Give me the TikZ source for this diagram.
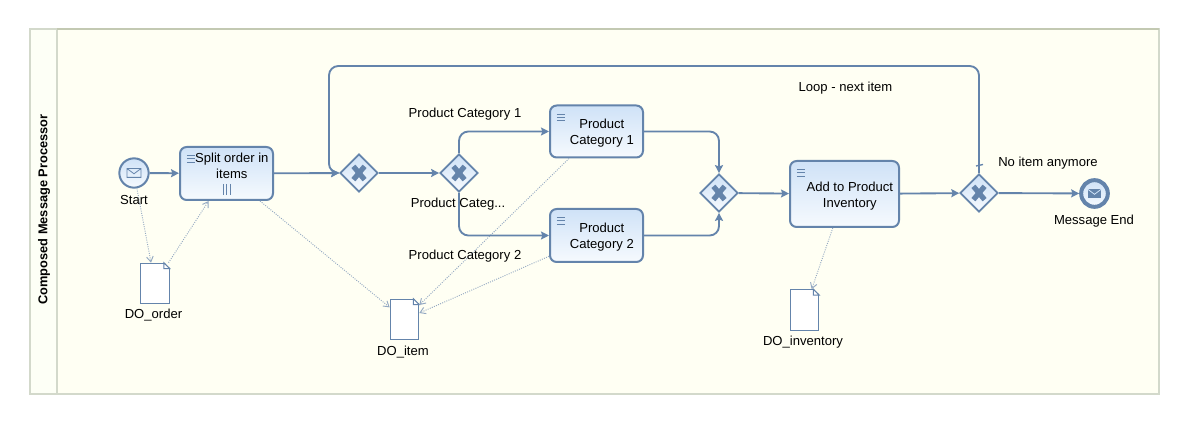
\documentclass[tikz,border=0pt]{standalone}
\usepackage{xcolor}
\usepackage{fontspec}
\setmainfont{Liberation Sans}
\usetikzlibrary{arrows.meta,shapes.geometric}
\definecolor{bpmline}{HTML}{6484AB}
\definecolor{bpmtop}{HTML}{CFE2F7}
\definecolor{bpmbot}{HTML}{F6FAFE}
\definecolor{bpmdata}{HTML}{93A8C2}
\definecolor{lanefill}{HTML}{FFFFF3}
\definecolor{headfill}{HTML}{FDFFF6}
\definecolor{laneedge}{HTML}{D3D9CB}
\definecolor{lanetop}{HTML}{C3C9B2}
\newcommand{\tasklines}[1]{\begin{tabular}{@{\hspace{8pt}}c@{}}\rule{0pt}{11.4pt}#1\end{tabular}}
\newcommand{\docfold}[1]{
  \fill[lanefill] ([shift={(-4.5pt,.5pt)}]#1.north east) -- ([shift={(.5pt,.5pt)}]#1.north east) -- ([shift={(.5pt,-4.5pt)}]#1.north east) -- cycle;
  \draw[bpmline,line width=.7pt] ([xshift=-4.5pt]#1.north east) -- ([yshift=-4.5pt]#1.north east) -- ([shift={(-4.5pt,-4.5pt)}]#1.north east) -- cycle;}
\tikzset{
  every node/.style={font=\fontsize{9.8}{12}\selectfont},
  task/.style={draw=bpmline,line width=1.5pt,rounded corners=5pt,top color=bpmtop,bottom color=bpmbot,inner sep=0pt,
    path picture={\draw[bpmline,line width=.6pt]
      ([shift={(5.2pt,-6.4pt)}]path picture bounding box.north west) -- ++(6pt,0pt)
      ([shift={(5.2pt,-8.8pt)}]path picture bounding box.north west) -- ++(6pt,0pt)
      ([shift={(5.2pt,-11.2pt)}]path picture bounding box.north west) -- ++(6pt,0pt);}},
  gateway/.style={diamond,aspect=1,draw=bpmline,line width=1.3pt,top color=bpmtop,bottom color=bpmbot,inner sep=0pt,minimum width=28.5pt,minimum height=28.5pt,
    path picture={\draw[bpmline,line width=3.9pt]
      ([shift={(-4.2pt,-5pt)}]path picture bounding box.center) -- ([shift={(4.2pt,5pt)}]path picture bounding box.center)
      ([shift={(-4.2pt,5pt)}]path picture bounding box.center) -- ([shift={(4.2pt,-5pt)}]path picture bounding box.center);}},
  startev/.style={circle,draw=bpmline,line width=1.5pt,top color=bpmtop,bottom color=bpmbot,inner sep=0pt,minimum size=22pt,
    path picture={\draw[bpmline,line width=.6pt]
      ([shift={(-5.2pt,-3.3pt)}]path picture bounding box.center) rectangle ([shift={(5.2pt,3.3pt)}]path picture bounding box.center)
      ([shift={(-5.2pt,3.3pt)}]path picture bounding box.center) -- ([shift={(0pt,-.6pt)}]path picture bounding box.center) -- ([shift={(5.2pt,3.3pt)}]path picture bounding box.center);}},
  endev/.style={circle,draw=bpmline,line width=3pt,top color=bpmtop,bottom color=bpmbot,inner sep=0pt,minimum size=20pt,
    path picture={\fill[bpmline]
      ([shift={(-5.2pt,-3.3pt)}]path picture bounding box.center) rectangle ([shift={(5.2pt,3.3pt)}]path picture bounding box.center);
      \draw[bpmtop,line width=.6pt]
      ([shift={(-5.2pt,3.3pt)}]path picture bounding box.center) -- ([shift={(0pt,-.6pt)}]path picture bounding box.center) -- ([shift={(5.2pt,3.3pt)}]path picture bounding box.center);}},
  dataobj/.style={rectangle,draw=bpmline,line width=.7pt,fill=white,inner sep=0pt,minimum width=21.5pt,minimum height=30.5pt},
  flow/.style={draw=bpmline,line width=1.4pt,rounded corners=7pt,-{Stealth[length=6pt,width=6pt,inset=1pt]}},
  assoc/.style={draw=bpmdata,line width=.7pt,densely dotted,-{Straight Barb[length=4pt,width=5pt]}}
}
\begin{document}
\begin{tikzpicture}[x=.75pt,y=-.75pt]
\useasboundingbox (0,0) rectangle (1193,427);
% lane
\fill[lanefill] (30,29) rectangle (1159,394);
\fill[headfill] (30,29) rectangle (57,394);
\draw[laneedge,line width=1.5pt] (30,29) rectangle (1159,394);
\draw[laneedge,line width=1.5pt] (57,29) -- (57,394);
\draw[lanetop,line width=1.5pt] (57,29) -- (1159,29);
\node[rotate=90,font=\fontsize{9.6}{12}\bfseries\selectfont](lane) at (44,209.5){Composed Message Processor};
% data objects
\node[dataobj](doorder) at (155,283.5){};
\node[dataobj](doitem) at (404.5,319.5){};
\node[dataobj](doinv) at (804.5,310){};
\docfold{doorder}
\docfold{doitem}
\docfold{doinv}
\node(doordertxt) at (153.5,315){DO\_order};
\node(doitemtxt) at (403,352){DO\_item};
\node(doinvtxt) at (803,342){DO\_inventory};
% data associations
\node[startev](start) at (134,173){};
\node[task,minimum width=69.75pt,minimum height=39.75pt](split) at (226.5,173.5){\tasklines{Split order in\\items\\\mbox{}}};
\node[task,minimum width=69.75pt,minimum height=39pt](cata) at (596.5,131.5){\tasklines{Product\\Category 1}};
\node[task,minimum width=69.75pt,minimum height=39.75pt](catb) at (596.5,235.5){\tasklines{Product\\Category 2}};
\node[task,minimum width=81.75pt,minimum height=49.5pt](addinv) at (844.5,194){\tasklines{Add to Product\\Inventory}};
\draw[bpmline,line width=.6pt] (223,184) -- (223,195) (226.5,184) -- (226.5,195) (230,184) -- (230,195);
\draw[assoc] (start) -- (doorder);
\draw[assoc] (doorder) -- (split);
\draw[assoc] (split) -- (doitem);
\draw[assoc] (cata) -- (doitem);
\draw[assoc] (catb) -- (doitem);
\draw[assoc] (addinv) -- (doinv);
% gateways and end
\node[gateway](gwa) at (359,173){};
\node[gateway](gwb) at (459,173){};
\node[gateway](gwc) at (719,193){};
\node[gateway](gwd) at (979,193){};
\node[endev](msgend) at (1094.5,193.5){};
% sequence flows
\coordinate (loopa) at (979,66);
\coordinate (loopb) at (329,66);
\coordinate (loopc) at (329,173);
\coordinate (ticka) at (976,166);
\coordinate (tickb) at (983,164.5);
\draw[flow] (start) -- (split);
\draw[flow] (split) -- (gwa);
\draw[flow] (gwd.north) -- (loopa) -- (loopb) -- (loopc) -- (gwa.west);
\draw[bpmline,line width=1pt] (ticka) -- (tickb);
\draw[flow] (gwa) -- (gwb);
\draw[flow] (gwb.north) |- (cata.west);
\draw[flow] (gwb.south) |- (catb.west);
\draw[flow] (cata.east) -| (gwc.north);
\draw[flow] (catb.east) -| (gwc.south);
\draw[flow] (gwc) -- (addinv);
\draw[flow] (addinv) -- (gwd);
\draw[flow] (gwd) -- (msgend);
% labels
\node(starttxt) at (134,200.5){Start};
\node(endtxt) at (1094,221){Message End};
\node(cattxta) at (465,114){Product Category 1};
\node(cattxtc) at (458,204.5){Product Categ...};
\node(cattxtb) at (465,256.5){Product Category 2};
\node(looptxt) at (845.5,88){Loop - next item};
\node(notxt) at (1048,163){No item anymore};
\end{tikzpicture}
\end{document}
